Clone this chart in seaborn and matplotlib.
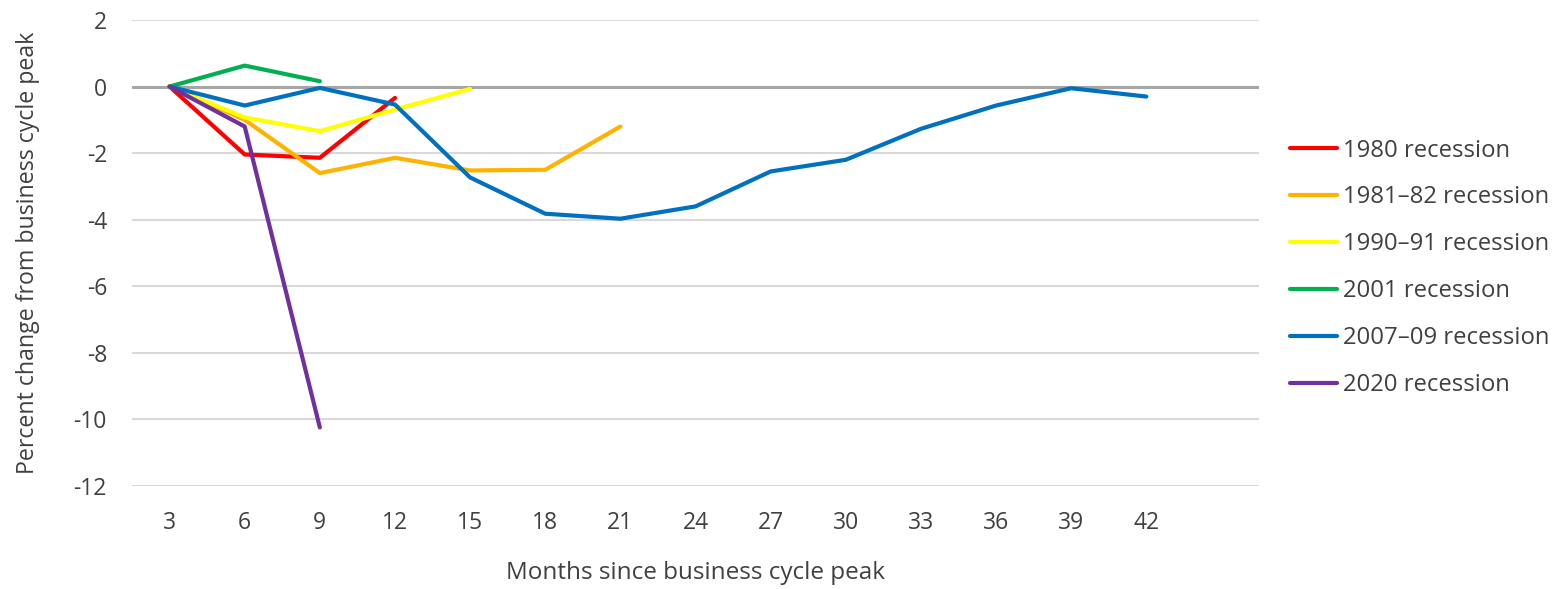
import matplotlib
matplotlib.use("Agg")
import matplotlib.pyplot as plt
import seaborn as sns
import pandas as pd

months = [3, 6, 9, 12, 15, 18, 21, 24, 27, 30, 33, 36, 39, 42]
tick_labels = [str(m) for m in months]

series_names = ["1980 recession", "1981\u201382 recession", "1990\u201391 recession",
                "2001 recession", "2007\u201309 recession", "2020 recession"]

rec_1980 = [0, -2.04, -2.14, -0.34]
rec_1981 = [0, -1.0, -2.6, -2.14, -2.52, -2.5, -1.2]
rec_1990 = [0, -0.93, -1.34, -0.69, -0.07]
rec_2001 = [0, 0.63, 0.16]
rec_2007 = [0, -0.57, -0.04, -0.54, -2.73, -3.82, -3.97, -3.6, -2.55, -2.2, -1.27, -0.57, -0.05, -0.3]
rec_2020 = [0, -1.2, -10.24]

colors = ["#FF0000", "#FFB300", "#FFFF00", "#00B050", "#0070C0", "#7030A0"]

all_series = [rec_1980, rec_1981, rec_1990, rec_2001, rec_2007, rec_2020]
rows = []
for name, vals in zip(series_names, all_series):
    for m, v in zip(months, vals):
        rows.append({"month": m, "value": v, "series": name})
df = pd.DataFrame(rows)

sns.set_theme(style="white")
plt.rcParams["font.family"] = ["Open Sans", "DejaVu Sans"]

fig = plt.figure(figsize=(15.57, 5.89), dpi=100)
ax = fig.add_axes([132 / 1557, 1 - 486 / 589, (1259 - 132) / 1557, (486 - 20) / 589])

sns.lineplot(data=df, x="month", y="value", hue="series", hue_order=series_names,
             palette=colors, linewidth=3, sort=False, ax=ax, legend=True)

ax.set_xlim(1.5, 46.5)
ax.set_ylim(-12, 2)
ax.set_xticks(months)
ax.set_xticklabels(tick_labels)
ax.set_yticks(range(-12, 3, 2))
ax.set_yticklabels([str(v) for v in range(-12, 3, 2)])
ax.grid(axis="y", color="#D9D9D9", linewidth=1.5, zorder=0)
ax.set_axisbelow(True)
ax.axhline(0, color="#A6A6A6", linewidth=2.2, zorder=1)
for s in ax.spines.values():
    s.set_visible(False)
ax.tick_params(axis="both", length=0, labelsize=16.5, colors="#404040")
ax.tick_params(axis="x", pad=18)
ax.tick_params(axis="y", pad=18)

ax.set_xlabel("Months since business cycle peak", fontsize=17.5, color="#404040", labelpad=19)
ax.set_ylabel("Percent change from business cycle peak", fontsize=16.7, color="#404040")
ax.yaxis.set_label_coords((40 - 132) / 1127, 0.5)

handles, labels = ax.get_legend_handles_labels()
ax.legend(handles, labels, loc="upper left", bbox_to_anchor=(1280 / 1557, 1 - 129 / 589),
          bbox_transform=fig.transFigure, frameon=False, fontsize=17.2,
          handlelength=2.0, handletextpad=0.25, labelspacing=0.96, borderaxespad=0,
          labelcolor="#404040")

fig.savefig("out.png", dpi=100)
